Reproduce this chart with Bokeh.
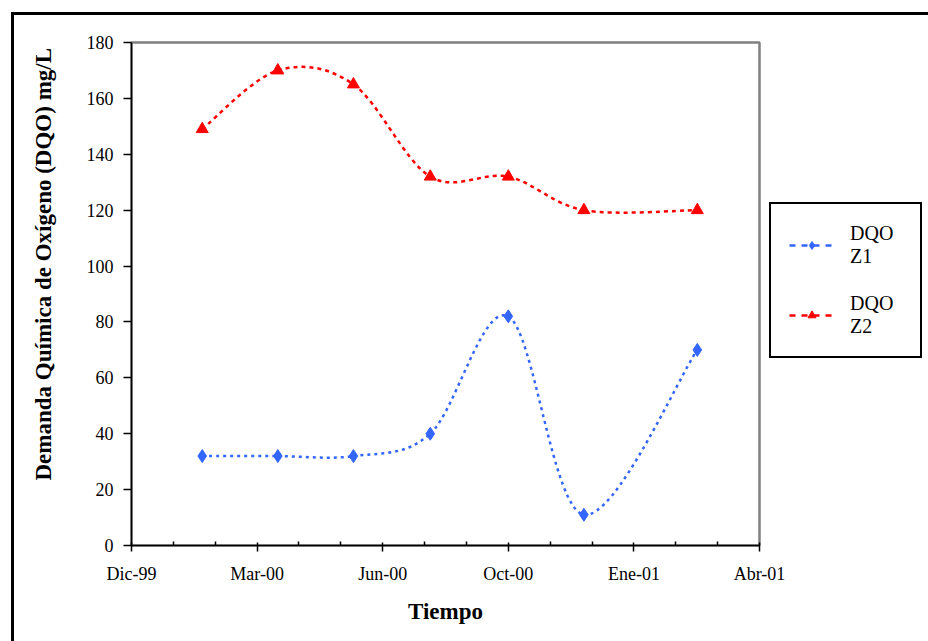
import pandas as pd
from bokeh.plotting import figure
from bokeh.models import (Range1d, FixedTicker, Legend, LegendItem, Title, ColumnDataSource)
from bokeh.embed import file_html
from bokeh.resources import INLINE

# ---------------- data ----------------
fechas = ["2000-01-28", "2000-03-30", "2000-05-31", "2000-08-02",
          "2000-10-05", "2000-12-06", "2001-03-09"]
dqo_z1 = [32, 32, 32, 40, 82, 11, 70]
dqo_z2 = [149, 170, 165, 132, 132, 120, 120]

inicio_eje = "1999-12-01"
paso_dias = 103
etiquetas_x = ["Dic-99", "Mar-00", "Jun-00", "Oct-00", "Ene-01", "Abr-01"]
ticks_y = [0, 20, 40, 60, 80, 100, 120, 140, 160, 180]

# ---------------- helpers ----------------
t0 = pd.Timestamp(inicio_eje)
xdias = [(pd.Timestamp(f) - t0).days for f in fechas]
major = [k * paso_dias for k in range(len(etiquetas_x))]
minor = [m + paso_dias * j / 3 for m in major[:-1] for j in (1, 2)]


def bezier_source(xs, ys):
    n = len(xs)
    P = list(zip(xs, ys))
    d = dict(x0=[], y0=[], x1=[], y1=[], cx0=[], cy0=[], cx1=[], cy1=[])
    for i in range(n - 1):
        pm = P[max(i - 1, 0)]
        p0 = P[i]
        p1 = P[i + 1]
        p2 = P[min(i + 2, n - 1)]
        d["x0"].append(p0[0]); d["y0"].append(p0[1])
        d["x1"].append(p1[0]); d["y1"].append(p1[1])
        d["cx0"].append(p0[0] + (p1[0] - pm[0]) / 6)
        d["cy0"].append(p0[1] + (p1[1] - pm[1]) / 6)
        d["cx1"].append(p1[0] - (p2[0] - p0[0]) / 6)
        d["cy1"].append(p1[1] - (p2[1] - p0[1]) / 6)
    return ColumnDataSource(d)


SERIF = "Liberation Serif"
AZUL = "#3366FF"
ROJO = "#FF0000"

# outer chart-area frame (left and top edges) painted behind a transparent border area
marco = ("linear-gradient(#000,#000) 11px 12px / 3px 100% no-repeat, "
         "linear-gradient(#000,#000) 11px 12px / 100% 3px no-repeat, #fff")

p = figure(frame_width=628, frame_height=503, output_backend="svg", toolbar_location=None,
           x_range=Range1d(0, major[-1]), y_range=Range1d(0, 180),
           min_border_left=130, min_border_right=170, min_border_top=42,
           min_border_bottom=96, styles={"background": marco})
p.grid.visible = False
p.outline_line_color = "#808080"
p.outline_line_width = 2.5
p.background_fill_color = "white"
p.border_fill_alpha = 0.0

# curves
p.bezier(x0="x0", y0="y0", x1="x1", y1="y1", cx0="cx0", cy0="cy0", cx1="cx1", cy1="cy1",
         source=bezier_source(xdias, dqo_z1), line_color=AZUL, line_width=2.5, line_dash="3 4")
p.bezier(x0="x0", y0="y0", x1="x1", y1="y1", cx0="cx0", cy0="cy0", cx1="cx1", cy1="cy1",
         source=bezier_source(xdias, dqo_z2), line_color=ROJO, line_width=2.5, line_dash="4 4")

s1 = p.scatter(xdias, dqo_z1, marker="diamond", size=13, color=AZUL)
s2 = p.scatter(xdias, dqo_z2, marker="triangle", size=12, color=ROJO)

# single-point lines (draw nothing in the plot) used for the legend swatch
l1 = p.line(xdias[:1], dqo_z1[:1], line_color=AZUL, line_width=2.5, line_dash="6 6")
l2 = p.line(xdias[:1], dqo_z2[:1], line_color=ROJO, line_width=2.5, line_dash="6 6")

# axes
xa = p.xaxis[0]
xa.ticker = FixedTicker(ticks=major, minor_ticks=minor)
xa.major_label_overrides = {m: lab for m, lab in zip(major, etiquetas_x)}
xa.major_tick_in = 3
xa.major_tick_out = 6
xa.minor_tick_in = 4
xa.minor_tick_out = 0
xa.major_label_standoff = 12
xa.axis_label = "Tiempo"
xa.axis_label_standoff = 12

ya = p.yaxis[0]
ya.ticker = FixedTicker(ticks=ticks_y)
ya.major_tick_in = 0
ya.major_tick_out = 8
ya.minor_tick_out = 0
ya.minor_tick_in = 0
ya.major_label_standoff = 10

for ax in (xa, ya):
    ax.axis_line_color = "black"
    ax.axis_line_width = 1.5
    ax.major_tick_line_color = "black"
    ax.major_tick_line_width = 1.5
    ax.minor_tick_line_color = "black"
    ax.minor_tick_line_width = 1.5
    ax.major_label_text_font = SERIF
    ax.major_label_text_font_size = "18px"
    ax.major_label_text_color = "black"
    ax.axis_label_text_font = SERIF
    ax.axis_label_text_font_size = "23px"
    ax.axis_label_text_font_style = "bold"
    ax.axis_label_text_color = "black"

yt = Title(text="Demanda Química de Oxígeno (DQO) mg/L", align="left", offset=65,
           text_font=SERIF, text_font_size="23px", text_font_style="bold",
           text_color="black", standoff=56)
p.add_layout(yt, "left")

legend = Legend(items=[LegendItem(label="DQO\nZ1", renderers=[l1, s1]),
                       LegendItem(label="DQO\nZ2", renderers=[l2, s2])],
                location=(10, 187), orientation="vertical",
                border_line_color="black", border_line_width=2.5, border_line_alpha=1.0,
                background_fill_color="white", background_fill_alpha=1.0,
                padding=18, spacing=24,
                glyph_width=45, glyph_height=20, label_standoff=16, label_width=52,
                label_text_font=SERIF, label_text_font_size="20px",
                label_text_color="black", label_text_line_height=1.05)
p.add_layout(legend, "right")

open("out.html", "w").write(file_html(p, INLINE))
